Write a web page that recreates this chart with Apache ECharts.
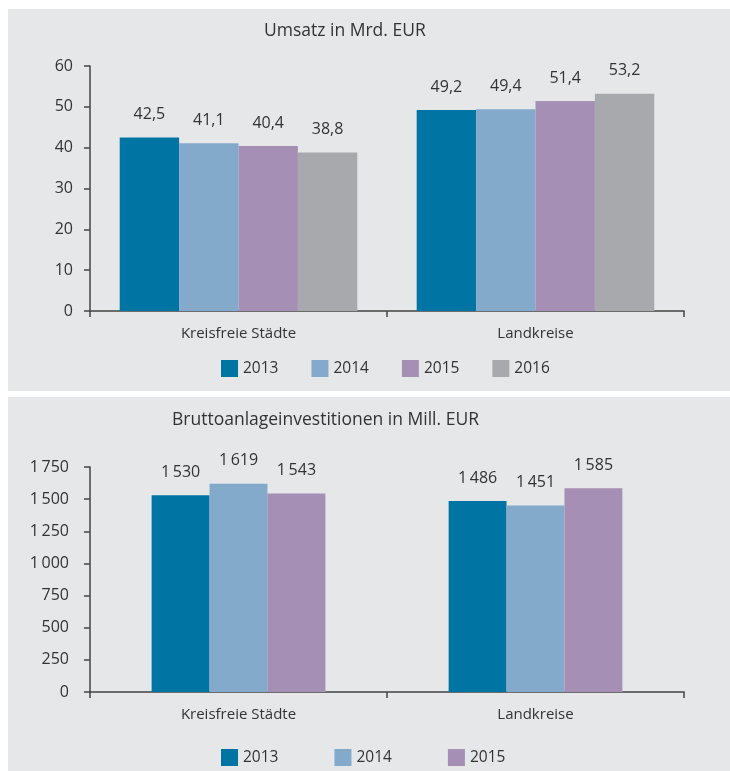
<!DOCTYPE html>
<html>
<head>
<meta charset="utf-8">
<script src="https://cdn.jsdelivr.net/npm/echarts@6/dist/echarts.min.js"></script>
<style>
  html, body { margin: 0; padding: 0; background: #fff; }
  #chart { width: 730px; height: 771px; }
</style>
</head>
<body>
<div id="chart"></div>
<script>
// Daten
const categories = ['Kreisfreie Städte', 'Landkreise']
const umsatzYears = ['2013', '2014', '2015', '2016']
const umsatz2013 = [42.5, 49.2]
const umsatz2014 = [41.1, 49.4]
const umsatz2015 = [40.4, 51.4]
const umsatz2016 = [38.8, 53.2]
const investYears = ['2013', '2014', '2015']
const invest2013 = [1530, 1486]
const invest2014 = [1619, 1451]
const invest2015 = [1543, 1585]

const colors = { '2013': '#0075a3', '2014': '#84aacb', '2015': '#a68fb5', '2016': '#a7a9ac' }
const font = 'Open Sans'
const txt = '#333333'

const fmtComma = v => String(v).replace('.', ',')
const fmtThousand = v => String(v).replace(/\B(?=(\d{3})+(?!\d))/g, '\u2009')

const axisLine = { show: true, lineStyle: { color: '#444', width: 1.5 } }
const axisTick = { show: true, length: 6, lineStyle: { color: '#444', width: 1.5 } }

function bars (names, datas, gridIdx, fmt, gap) {
  return names.map((n, i) => ({
    name: n,
    type: 'bar',
    xAxisIndex: gridIdx,
    yAxisIndex: gridIdx,
    data: datas[i],
    barGap: '0%',
    barCategoryGap: gap,
    itemStyle: { color: colors[n] },
    label: {
      show: true,
      position: 'top',
      distance: 15,
      color: txt,
      fontFamily: font,
      fontSize: 16,
      formatter: p => fmt(p.value)
    }
  }))
}

const chart = echarts.init(document.getElementById('chart'))
chart.setOption({
  animation: false,
  textStyle: { fontFamily: font, color: txt },
  graphic: [
    { type: 'rect', z: -10, shape: { x: 8, y: 9, width: 722, height: 382 }, style: { fill: '#e6e7e9' } },
    { type: 'rect', z: -10, shape: { x: 8, y: 397, width: 722, height: 374 }, style: { fill: '#e6e7e9' } }
  ],
  title: [
    { text: 'Umsatz in Mrd. EUR', left: 259, top: 17, textStyle: { fontFamily: font, fontSize: 17.5, fontWeight: 'normal', color: txt } },
    { text: 'Bruttoanlageinvestitionen in Mill. EUR', left: 167, top: 406, textStyle: { fontFamily: font, fontSize: 17.5, fontWeight: 'normal', color: txt } }
  ],
  legend: [
    {
      data: umsatzYears, left: 216, top: 355, itemWidth: 17, itemHeight: 17, itemGap: 33,
      icon: 'rect', textStyle: { fontFamily: font, fontSize: 15.5, color: txt }
    },
    {
      data: investYears, left: 216, top: 744, itemWidth: 17, itemHeight: 17, itemGap: 56,
      icon: 'rect', textStyle: { fontFamily: font, fontSize: 15.5, color: txt }
    }
  ],
  grid: [
    { left: 90, right: 46, top: 66, height: 245 },
    { left: 90, right: 46, top: 467, height: 225 }
  ],
  xAxis: [0, 1].map(i => ({
    type: 'category',
    gridIndex: i,
    data: categories,
    axisLine: axisLine,
    axisTick: axisTick,
    axisLabel: { color: txt, fontFamily: font, fontSize: 15, margin: 15 }
  })),
  yAxis: [
    {
      type: 'value', gridIndex: 0, min: 0, max: 60, interval: 10,
      axisLine: axisLine,
      axisTick: axisTick,
      splitLine: { show: false },
      axisLabel: { color: txt, fontFamily: font, fontSize: 16, margin: 17 }
    },
    {
      type: 'value', gridIndex: 1, min: 0, max: 1750, interval: 250,
      axisLine: axisLine,
      axisTick: axisTick,
      splitLine: { show: false },
      axisLabel: { color: txt, fontFamily: font, fontSize: 16, margin: 21, formatter: fmtThousand }
    }
  ],
  series: [
    ...bars(umsatzYears, [umsatz2013, umsatz2014, umsatz2015, umsatz2016], 0, fmtComma, '20%'),
    ...bars(investYears, [invest2013, invest2014, invest2015], 1, fmtThousand, '41.5%')
  ]
})
</script>
</body>
</html>
